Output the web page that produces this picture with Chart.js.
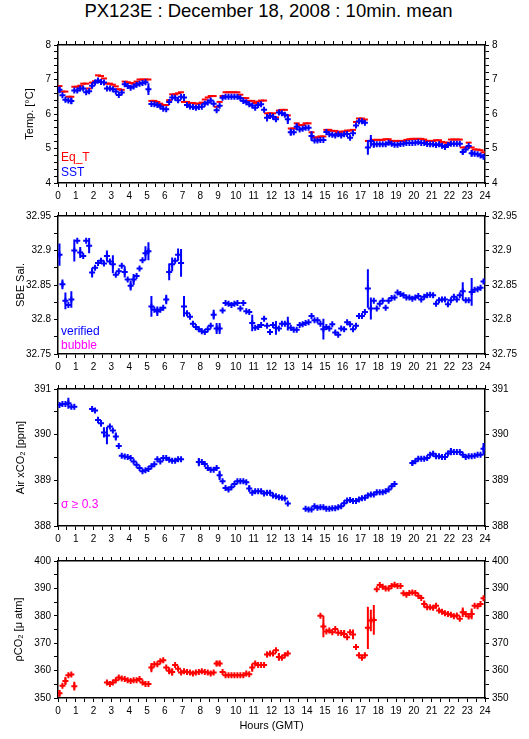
<!DOCTYPE html>
<html><head><meta charset="utf-8">
<script src="https://cdn.jsdelivr.net/npm/chart.js@4.4.1/dist/chart.umd.min.js"></script>
<style>
html,body{margin:0;padding:0;background:#fff}
body{width:529px;height:739px;position:relative;overflow:hidden;font-family:"Liberation Sans",Arial,Helvetica,sans-serif}
canvas{position:absolute;left:0}
.t{position:absolute;white-space:nowrap;line-height:12px;font-size:12px}
#title{position:absolute;left:0;top:2px;width:529px;padding-left:8px;box-sizing:border-box;text-align:center;font-size:18.5px;line-height:18.5px;color:#000}
</style></head><body>
<div id="title">PX123E : December 18, 2008 : 10min. mean</div>
<canvas id="c1"></canvas><canvas id="c2"></canvas><canvas id="c3"></canvas><canvas id="c4"></canvas>
<div class="t" style="left:61px;top:151px;color:#ff0000">Eq_T</div>
<div class="t" style="left:61px;top:166px;color:#0000ff">SST</div>
<div class="t" style="left:61px;top:325px;color:#0000ff">verified</div>
<div class="t" style="left:61px;top:339px;color:#ff00ff">bubble</div>
<div class="t" style="left:61px;top:498px;color:#ff00ff">σ ≥ 0.3</div>
<script>
// ---- data: 10-minute means, index i covers hours [i/6, (i+1)/6) ----
const eqT = [6.81,6.65,6.65,6.50,6.50,6.79,6.79,6.82,6.88,6.88,
6.74,6.91,6.95,7.12,7.10,7.03,6.88,6.88,6.85,6.80,
6.72,6.70,6.94,6.92,6.90,6.88,6.94,7.00,7.00,7.00,
7.00,6.38,6.38,6.35,6.30,6.26,6.26,6.40,6.57,6.57,
6.60,6.63,6.35,6.35,6.32,6.32,6.30,6.30,6.33,6.42,
6.48,6.52,6.52,6.21,6.35,6.52,6.63,6.63,6.63,6.63,
6.63,6.56,6.46,6.46,6.38,6.38,6.32,6.36,6.39,6.39,
6.02,6.02,6.02,5.90,6.10,6.12,6.12,5.96,5.58,5.58,
5.73,5.68,5.68,5.73,5.73,5.47,5.32,5.32,5.35,5.35,
5.54,5.54,5.51,5.51,5.45,5.49,5.49,5.52,5.52,5.54,
5.77,5.87,5.87,5.84,5.22,5.22,5.25,5.25,5.25,5.25,
5.27,5.27,5.22,5.22,5.22,5.22,5.22,5.25,5.27,5.28,
5.28,5.28,5.28,5.26,5.22,5.22,5.22,5.24,5.24,5.19,
5.17,5.17,5.26,5.26,5.26,5.26,5.03,5.03,5.17,5.03,
4.97,4.97,4.95,4.89];
const sst = [6.70,6.54,6.41,6.39,6.38,6.68,6.68,6.74,6.74,6.63,
6.66,6.82,6.91,6.97,6.93,6.91,6.74,6.74,6.72,6.65,
6.55,6.62,6.86,6.81,6.76,6.80,6.85,6.88,6.90,6.92,
6.72,6.29,6.28,6.26,6.22,6.15,6.14,6.35,6.48,6.47,
6.40,6.50,6.48,6.26,6.22,6.20,6.18,6.20,6.21,6.30,
6.33,6.39,6.30,6.11,6.24,6.47,6.50,6.50,6.50,6.50,
6.50,6.46,6.38,6.34,6.28,6.25,6.18,6.26,6.28,6.12,
5.89,5.94,5.92,5.85,6.04,6.02,5.98,5.85,5.47,5.47,
5.63,5.55,5.57,5.60,5.60,5.36,5.23,5.23,5.25,5.25,
5.48,5.41,5.40,5.38,5.41,5.38,5.41,5.42,5.31,5.44,
5.67,5.79,5.79,5.75,5.03,5.22,5.12,5.12,5.12,5.12,
5.12,5.17,5.14,5.11,5.11,5.13,5.14,5.16,5.16,5.16,
5.17,5.18,5.16,5.16,5.13,5.12,5.12,5.10,5.12,5.08,
5.04,5.10,5.14,5.14,5.14,5.14,4.90,4.97,5.07,4.86,
4.85,4.83,4.80,4.76];
const sal = [32.894,32.851,32.827,32.821,32.829,32.900,32.914,32.897,32.892,32.914,
32.907,32.868,32.875,32.882,32.885,32.881,32.892,32.884,32.880,32.865,
32.870,32.878,32.869,32.858,32.849,32.858,32.863,32.874,32.886,32.896,
32.899,32.819,32.814,32.812,32.814,32.817,32.829,32.869,32.880,32.885,
32.894,32.882,32.819,32.809,32.804,32.794,32.789,32.786,32.783,32.782,
32.786,32.791,32.807,32.787,32.787,32.813,32.824,32.823,32.821,32.823,
32.824,32.816,32.824,32.812,32.811,32.795,32.788,32.789,32.792,32.801,
32.791,32.782,32.792,32.788,32.787,32.794,32.794,32.794,32.788,32.785,
32.785,32.792,32.793,32.795,32.796,32.805,32.799,32.799,32.794,32.786,
32.789,32.787,32.793,32.781,32.778,32.787,32.786,32.796,32.793,32.786,
32.791,32.805,32.805,32.811,32.845,32.816,32.827,32.816,32.823,32.827,
32.817,32.827,32.831,32.832,32.839,32.837,32.835,32.832,32.832,32.830,
32.832,32.834,32.829,32.833,32.835,32.836,32.835,32.823,32.828,32.829,
32.829,32.822,32.828,32.833,32.829,32.835,32.841,32.828,32.828,32.840,
32.843,32.844,32.846,32.855];
const xco2 = [390.65,390.67,390.67,390.69,390.61,390.61,null,null,null,null,
null,390.56,390.53,390.32,390.25,390.05,389.98,390.18,390.09,389.96,
389.75,389.54,389.52,389.51,389.49,389.41,389.34,389.27,389.20,389.22,
389.25,389.31,389.35,389.46,389.41,389.49,389.49,389.45,389.43,389.43,
389.46,389.46,null,null,null,null,null,389.40,389.40,389.36,
389.27,389.23,389.23,389.27,389.11,388.98,388.83,388.80,388.85,388.92,
388.98,388.98,388.98,388.96,388.82,388.73,388.76,388.76,388.76,388.71,
388.73,388.73,388.67,388.65,388.63,388.62,388.60,388.49,null,null,
null,null,null,388.38,388.36,388.36,388.43,388.40,388.41,388.41,
388.38,388.38,388.39,388.39,388.41,388.43,388.50,388.56,388.57,388.55,
388.55,388.58,388.61,388.62,388.67,388.69,388.69,388.74,388.74,388.74,
388.76,388.80,388.87,388.92,null,null,null,null,null,389.38,
389.42,389.47,389.47,389.47,389.49,389.56,389.58,389.53,389.53,389.51,
389.51,389.59,389.63,389.62,389.62,389.62,389.56,389.51,389.53,389.53,
389.54,389.56,389.56,389.69];
const pco2 = [351.7,354.5,356.2,358.3,358.6,354.3,null,null,null,null,
null,null,null,null,null,null,355.7,355.1,355.7,356.5,
357.5,357.1,356.9,356.5,356.2,356.5,356.5,356.9,355.7,355.1,
355.1,361.1,362.3,362.3,363.4,363.8,361.1,359.9,359.5,362.0,
360.7,359.3,359.8,359.5,359.3,358.9,359.3,359.5,359.8,359.5,
359.3,358.9,359.3,362.6,362.6,359.5,358.3,358.3,358.3,358.3,
358.3,358.3,358.3,358.9,358.7,361.1,362.6,362.0,362.0,362.0,
365.9,366.2,366.2,367.4,365.0,364.7,365.6,366.2,null,null,
null,null,null,null,null,null,null,null,380.0,376.1,
374.3,374.6,374.0,375.2,373.8,373.7,373.4,372.2,374.0,373.2,
368.6,365.6,364.7,365.6,375.6,378.3,378.5,389.7,391.2,390.6,
390.0,390.0,390.9,391.3,390.9,390.9,388.2,387.7,388.3,388.5,
388.3,387.3,386.5,384.3,383.1,383.1,382.9,383.7,381.9,381.5,
380.9,380.7,380.4,379.8,380.1,378.9,381.3,380.7,379.7,380.7,
383.7,383.5,384.3,386.4];
// standard deviations large enough to show beyond the marker: [index, sd]
const sstErr = [[0,0.1],[4,0.1],[11,0.07],[30,0.17],[42,0.1],[70,0.11],[72,0.07],[77,0.14],[78,0.1],[80,0.1],[85,0.14],[104,0.21],[105,0.17],[106,0.1],[136,0.07],[139,0.1]];
const salErr = [[0,0.016],[1,0.007],[2,0.012],[4,0.012],[5,0.016],[7,0.008],[10,0.011],[11,0.007],[16,0.008],[18,0.013],[22,0.008],[24,0.007],[25,0.008],[29,0.01],[30,0.013],[31,0.015],[33,0.007],[36,0.007],[37,0.012],[38,0.01],[40,0.009],[41,0.02],[42,0.015],[52,0.007],[53,0.008],[54,0.008],[65,0.012],[73,0.01],[77,0.01],[89,0.015],[104,0.028],[105,0.016],[136,0.013],[139,0.02]];
const xco2Err = [[3,0.12],[13,0.07],[14,0.07],[15,0.11],[16,0.19],[19,0.09],[47,0.09],[54,0.1],[64,0.07],[119,0.05],[132,0.08],[143,0.13]];
const pco2Err = [[0,1.2],[2,1.5],[5,1.6],[31,1.7],[37,1.2],[38,1.4],[53,1],[54,1],[65,1.5],[70,1],[74,1.4],[89,3.9],[96,1.4],[99,1.8],[104,7.7],[105,3.9],[106,5.4],[123,1.3],[136,1.7],[139,2]];
// tick labels
const hourLabels = [0,1,2,3,4,5,6,7,8,9,10,11,12,13,14,15,16,17,18,19,20,21,22,23,24];
const tempLabels = [4,5,6,7,8];
const salLabels = [32.75,32.8,32.85,32.9,32.95];
const xco2Labels = [388,389,390,391];
const pco2Labels = [350,360,370,380,390,400];

const RED='#ff0000', BLUE='#0000ff';
const FONT='"Liberation Sans", Arial, Helvetica, sans-serif';
function points(vals){return vals.map((v,i)=>({x:(i+0.5)/6,y:v}));}
function errSegs(vals,errs){const d=[];for(const [i,e] of errs){const x=(i+0.5)/6;d.push({x,y:vals[i]-e},{x,y:vals[i]+e},{x,y:null});}return d;}
function markSet(vals,color,style,order){return {data:points(vals),pointStyle:style,pointRadius:3,pointHoverRadius:3,pointBorderWidth:2,pointBorderColor:color,pointBackgroundColor:color,borderColor:color,showLine:false,order};}
function errSet(vals,errs,color,order){return {data:errSegs(vals,errs),showLine:true,spanGaps:false,pointRadius:0,pointHoverRadius:0,borderColor:color,borderWidth:2,order};}
function lab(v,list){for(const l of list){if(Math.abs(v-l)<1e-6)return String(l);}return '';}

function makePanel(id,plotTop,plotH,bottomH,y,datasets,xTitle){
  const topH=8;
  const cv=document.getElementById(id);
  cv.width=529; cv.height=topH+plotH+bottomH; cv.style.top=(plotTop-topH)+'px';
  const grid={display:true,drawOnChartArea:false,drawTicks:true,tickLength:4,tickColor:'#000',tickWidth:1,color:'#000'};
  const border={display:true,color:'#000',width:1.5};
  const tfont={family:FONT,size:10};
  const xTicks=(show)=>({stepSize:0.5,autoSkip:false,maxTicksLimit:1000,maxRotation:0,minRotation:0,color:'#000',font:tfont,padding:3,callback:v=>show?lab(v,hourLabels):''});
  const yTicks=()=>({stepSize:y.step,autoSkip:false,maxTicksLimit:1000,color:'#000',font:tfont,padding:3,callback:v=>lab(v,y.labels)});
  new Chart(cv,{type:'scatter',data:{datasets},options:{
    responsive:false,animation:false,devicePixelRatio:1,
    layout:{padding:0},
    plugins:{legend:{display:false},tooltip:{enabled:false}},
    events:[],
    scales:{
      x:{type:'linear',position:'bottom',min:0,max:24,grid,border,ticks:xTicks(true),
        title:xTitle?{display:true,text:xTitle,color:'#000',font:{family:FONT,size:11},padding:{top:0,bottom:6}}:{display:false},
        afterFit:s=>{s.height=bottomH;}},
      xTop:{type:'linear',position:'top',min:0,max:24,grid,border,ticks:xTicks(false),afterFit:s=>{s.height=topH;}},
      y:{type:'linear',position:'left',min:y.min,max:y.max,grid,border,ticks:yTicks(),
        title:{display:true,text:y.title,color:'#000',font:{family:FONT,size:11},padding:{top:y.titleX-6.6,bottom:0}},
        afterFit:s=>{s.width=58;}},
      yRight:{type:'linear',position:'right',min:y.min,max:y.max,grid,border,ticks:yTicks(),afterFit:s=>{s.width=44;}}
    }
  }});
}

makePanel('c1',44,139,24,{min:4,max:8,step:0.2,labels:tempLabels,title:'Temp. [°C]',titleX:30},
  [markSet(sst,BLUE,'cross',0),errSet(sst,sstErr,BLUE,0),markSet(eqT,RED,'line',2)]);
makePanel('c2',215,139,26,{min:32.75,max:32.95,step:0.025,labels:salLabels,title:'SBE Sal.',titleX:21},
  [markSet(sal,BLUE,'cross',0),errSet(sal,salErr,BLUE,0)]);
makePanel('c3',388,138,26,{min:388,max:391,step:0.5,labels:xco2Labels,title:'Air xCO₂ [ppm]',titleX:21},
  [markSet(xco2,BLUE,'cross',0),errSet(xco2,xco2Err,BLUE,0)]);
makePanel('c4',560,138,41,{min:350,max:400,step:5,labels:pco2Labels,title:'ρCO₂ [μ atm]',titleX:19},
  [markSet(pco2,RED,'cross',0),errSet(pco2,pco2Err,RED,0)],'Hours (GMT)');
</script>
</body></html>
